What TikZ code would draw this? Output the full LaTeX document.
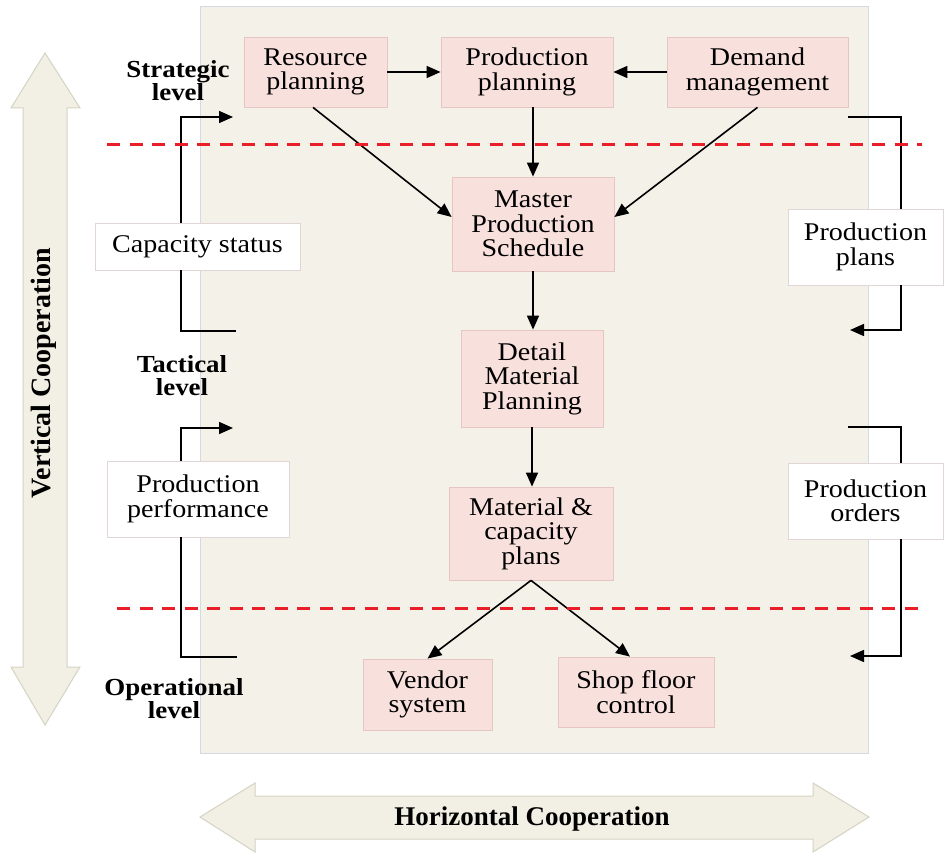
\documentclass[tikz,border=0pt]{standalone}
\usepackage{fontspec}
\setmainfont{Liberation Serif}
\newfontfamily\boxfont[FakeStretch=1.1]{Liberation Serif}
\usetikzlibrary{arrows.meta}
\definecolor{panel}{HTML}{F4F1E8}
\definecolor{panelborder}{HTML}{D3DAE3}
\definecolor{pinkfill}{HTML}{F8E0DD}
\definecolor{pinkborder}{HTML}{E5C6C3}
\definecolor{whiteborder}{HTML}{E2D5D5}
\definecolor{blockfill}{HTML}{F2F0E4}
\definecolor{blockborder}{HTML}{D5D3C3}
\definecolor{dashred}{HTML}{E81E28}
\begin{document}
\begin{tikzpicture}[x=1pt,y=-1pt,
  box/.style={draw=pinkborder, fill=pinkfill, line width=0.8pt, inner sep=0pt, align=center,
    font=\boxfont\fontsize{25.5}{24.5}\selectfont, text=black},
  wbox/.style={box, draw=whiteborder, fill=white},
  lvl/.style={align=center, inner sep=0pt, font=\boxfont\bfseries\fontsize{24.5}{23}\selectfont},
  coop/.style={inner sep=0pt, font=\bfseries\fontsize{27}{27}\selectfont},
  arr/.style={line width=1.6pt, -{Triangle[length=14pt,width=12pt]}},
  ln/.style={line width=1.6pt},
  reddash/.style={draw=dashred, line width=3pt, dash pattern=on 13pt off 9.5pt},
  block/.style={fill=blockfill, draw=blockborder, line width=1pt}
]
\path[use as bounding box, fill=white] (0,0) rectangle (944,853);

% panel
\draw[fill=panel, draw=panelborder, line width=1pt] (200,7) rectangle (868,753);

% block arrows
\draw[block] (45,53) -- (80,108) -- (67,108) -- (67,667) -- (80,667) -- (45,725)
  -- (11,667) -- (23,667) -- (23,108) -- (11,108) -- cycle;
\draw[block] (200,817) -- (255,783) -- (255,796) -- (813,796) -- (813,783) -- (869,817)
  -- (813,852) -- (813,839) -- (255,839) -- (255,852) -- cycle;
\node[coop, rotate=90, font=\bfseries\fontsize{28}{28}\selectfont] (vc) at (44,373) {Vertical Cooperation};
\node[coop, anchor=base] (hc) at (532,825) {Horizontal Cooperation};

% level labels
\node[lvl] (strat) at (178,81) {Strategic\\level};
\node[lvl] (tact) at (182,376) {Tactical\\level};
\node[lvl] (oper) at (174,698.5) {Operational\\level};

% main boxes
\node[box, minimum width=143pt, minimum height=70pt] (res) at (315.5,72) {Resource\\planning};
\node[box, minimum width=172pt, minimum height=70pt] (pp) at (527,72) {Production\\planning};
\node[box, minimum width=181pt, minimum height=70pt] (dm) at (757.5,72) {Demand\\management};
\node[box, minimum width=162pt, minimum height=94pt] (mps) at (533,224) {Master\\Production\\Schedule};
\node[box, minimum width=142pt, minimum height=97pt] (dmp) at (532,378.5) {Detail\\Material\\Planning};
\node[box, minimum width=164pt, minimum height=93pt] (mcp) at (531,533.5) {Material \&\\capacity\\plans};
\node[box, minimum width=129pt, minimum height=71pt] (ven) at (427.5,694.5) {Vendor\\system};
\node[box, minimum width=156pt, minimum height=70pt] (shop) at (636,692) {Shop floor\\control};

% side boxes
\node[wbox, minimum width=205pt, minimum height=47pt] (cap) at (197.5,246.5) {Capacity status};
\node[wbox, minimum width=182pt, minimum height=76pt] (pperf) at (198,499) {Production\\performance};
\node[wbox, minimum width=155pt, minimum height=76pt] (pplans) at (865.5,247) {Production\\plans};
\node[wbox, minimum width=155pt, minimum height=76pt] (porders) at (865.5,501) {Production\\orders};

% connector end points
\coordinate (c1) at (233,117);
\coordinate (c2) at (236,331);
\coordinate (p1) at (233,428);
\coordinate (p2) at (237,657);
\coordinate (pl1) at (848,117);
\coordinate (pl2) at (850,330);
\coordinate (po1) at (848,427);
\coordinate (po2) at (850,656);

% main flow
\draw[arr] (res.east) -- (pp.west);
\draw[arr] (dm.west) -- (pp.east);
\draw[arr] ([xshift=-2.5pt]res.south) -- ([yshift=7pt]mps.west);
\draw[arr] (dm.south) -- ([yshift=7pt]mps.east);
\draw[arr] (mps.north |- pp.south) -- (mps.north);
\draw[arr] (mps.south) -- (mps.south |- dmp.north);
\draw[arr] (dmp.south) -- (dmp.south |- mcp.north);
\draw[arr] (mcp.south) -- (ven.north);
\draw[arr] (mcp.south) -- ([xshift=-6pt]shop.north);

% feedback left
\draw[arr] ([xshift=-16.5pt]cap.north) |- (c1);
\draw[ln] ([xshift=-16.5pt]cap.south) |- (c2);
\draw[arr] ([xshift=-17pt]pperf.north) |- (p1);
\draw[ln] ([xshift=-17pt]pperf.south) |- (p2);

% feedback right
\draw[ln] (pl1) -| ([xshift=35.5pt]pplans.north);
\draw[arr] ([xshift=35.5pt]pplans.south) |- (pl2);
\draw[ln] (po1) -| ([xshift=35.5pt]porders.north);
\draw[arr] ([xshift=35.5pt]porders.south) |- (po2);

% red dashed level separators
\draw[reddash] (107,145) -- (922,145);
\draw[reddash] (117,608) -- (922,608);
\end{tikzpicture}
\end{document}
